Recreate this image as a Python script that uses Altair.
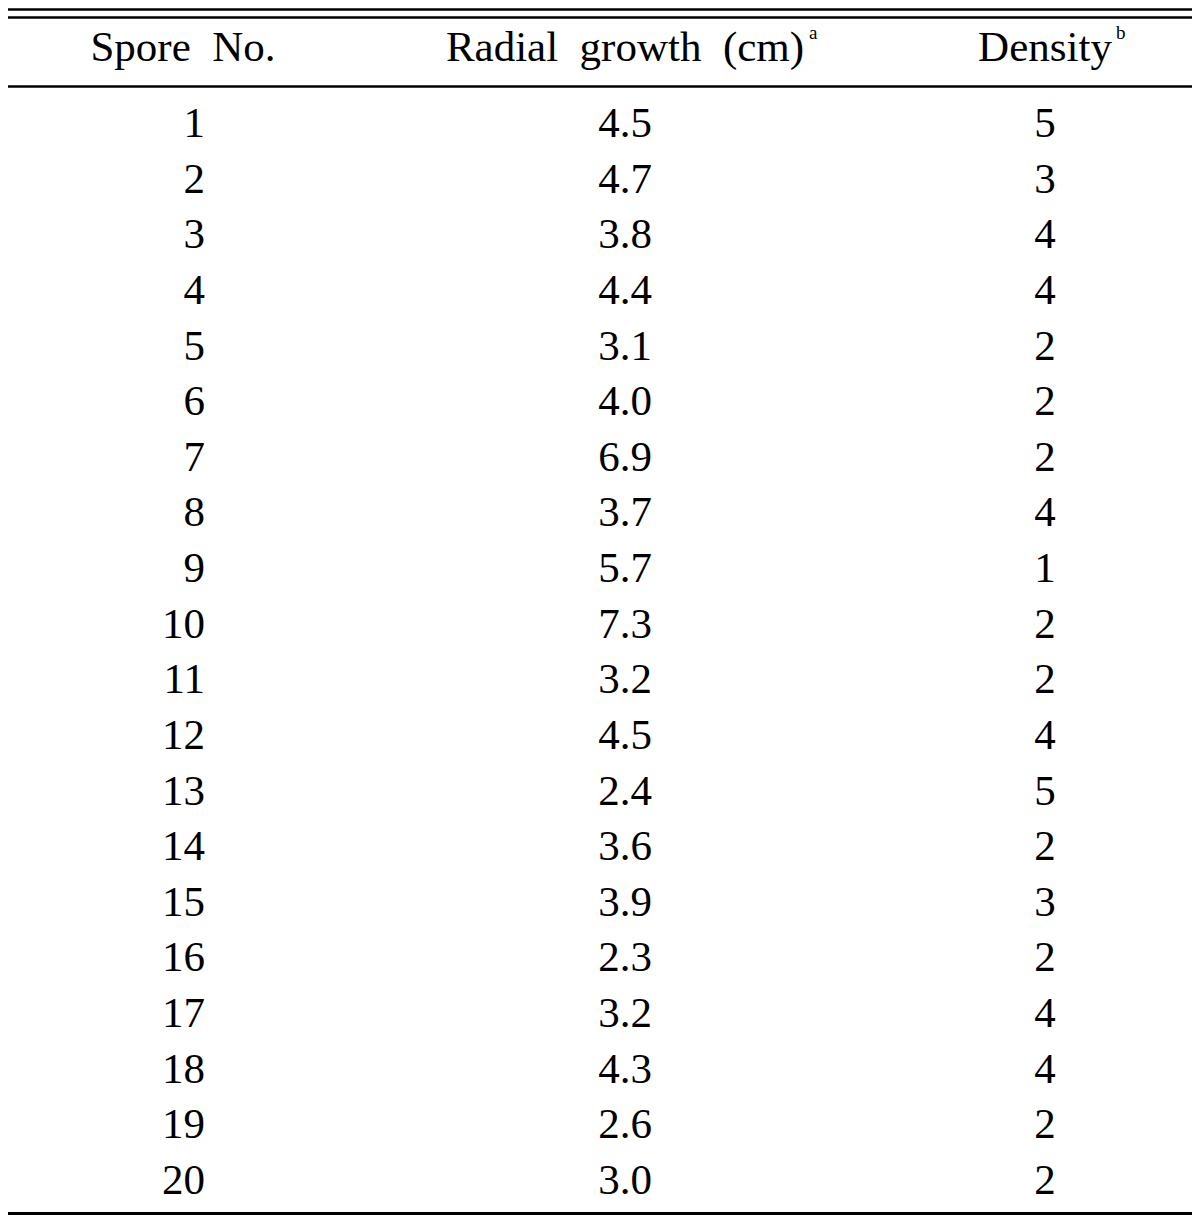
import altair as alt
import pandas as pd

# ---- table data ----
spore_no = list(range(1, 21))
radial_growth = [4.5, 4.7, 3.8, 4.4, 3.1, 4.0, 6.9, 3.7, 5.7, 7.3,
                 3.2, 4.5, 2.4, 3.6, 3.9, 2.3, 3.2, 4.3, 2.6, 3.0]
density = [5, 3, 4, 4, 2, 2, 2, 4, 1, 2, 2, 4, 5, 2, 3, 2, 4, 4, 2, 2]
headers = ["Spore\u00a0\u00a0No.", "Radial\u00a0\u00a0growth\u00a0\u00a0(cm)", "Density"]
superscripts = ["", "a", "b"]

W, H = 1184, 1208
FONT = "Liberation Serif"
FS = 43

rows = []
for i, (s, r, d) in enumerate(zip(spore_no, radial_growth, density)):
    rows.append({"row": i + 1, "col": 0, "label": str(s)})
    rows.append({"row": i + 1, "col": 1, "label": f"{r:.1f}"})
    rows.append({"row": i + 1, "col": 2, "label": str(d)})
cells = pd.DataFrame(rows)
hdr = pd.DataFrame({"col": [0, 1, 2], "label": headers, "sup": superscripts})

xs = alt.X("col:Q", scale=alt.Scale(domain=[0, 2], range=[197, 1037]), axis=None)
ys = alt.Y("row:Q", scale=alt.Scale(domain=[1, 20], range=[129, 1186]), axis=None)

col0 = alt.Chart(cells).transform_filter("datum.col == 0").mark_text(
    font=FONT, fontSize=FS, align="right", baseline="alphabetic", color="black"
).encode(x=xs, y=ys, text="label:N")

col12 = alt.Chart(cells).transform_filter("datum.col > 0").mark_text(
    font=FONT, fontSize=FS, align="center", baseline="alphabetic", color="black"
).encode(x=xs, y=ys, text="label:N")

h0 = alt.Chart(hdr).transform_filter("datum.col == 0").mark_text(
    font=FONT, fontSize=FS, align="center", baseline="alphabetic", color="black", dx=-22
).encode(x=xs, y=alt.value(53), text="label:N")

h12 = alt.Chart(hdr).transform_filter("datum.col > 0").mark_text(
    font=FONT, fontSize=FS, align="center", baseline="alphabetic", color="black"
).encode(x=xs, y=alt.value(53), text="label:N")

s1 = alt.Chart(hdr).transform_filter("datum.col == 1").mark_text(
    font=FONT, fontSize=19, align="left", baseline="alphabetic", color="black", dx=184
).encode(x=xs, y=alt.value(31), text="sup:N")

s2 = alt.Chart(hdr).transform_filter("datum.col == 2").mark_text(
    font=FONT, fontSize=19, align="left", baseline="alphabetic", color="black", dx=71
).encode(x=xs, y=alt.value(31), text="sup:N")

one = pd.DataFrame({"k": [0]})


def rule(y, sw):
    return alt.Chart(one).mark_rule(color="black", strokeWidth=sw).encode(
        x=alt.value(0), x2=alt.value(W), y=alt.value(y)
    )


chart = alt.layer(
    rule(1.5, 2.5), rule(9.5, 2.5), rule(78.5, 2.5), rule(1205.5, 3),
    h0, h12, s1, s2, col0, col12
).properties(
    width=W, height=H, autosize=alt.AutoSizeParams(type="none"), padding=0
).configure_view(strokeWidth=0)

chart.save("out.html", embed_options={"renderer": "svg", "actions": False})
